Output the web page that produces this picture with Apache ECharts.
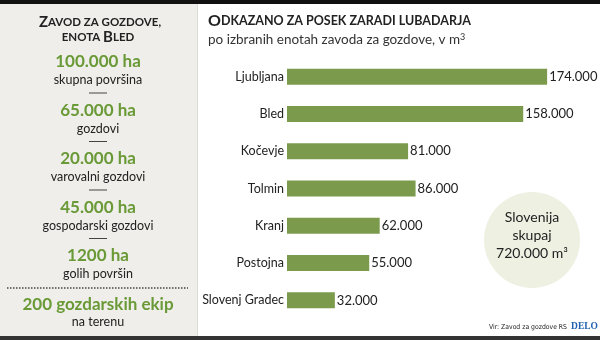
<!DOCTYPE html>
<html>
<head>
<meta charset="utf-8">
<script src="https://cdn.jsdelivr.net/npm/echarts@6/dist/echarts.min.js"></script>
<style>
  html, body { margin: 0; padding: 0; background: #fff; }
  #chart { width: 600px; height: 340px; }
</style>
</head>
<body>
<div id="chart"></div>
<script>
// podatki
const categories = ['Ljubljana', 'Bled', 'Kočevje', 'Tolmin', 'Kranj', 'Postojna', 'Slovenj Gradec'];
const values = [174000, 158000, 81000, 86000, 62000, 55000, 32000];

const statValues = ['100.000 ha', '65.000 ha', '20.000 ha', '45.000 ha', '1200 ha'];
const statLabels = ['skupna površina', 'gozdovi', 'varovalni gozdovi', 'gospodarski gozdovi', 'golih površin'];
const crewValue = '200 gozdarskih ekip';
const crewLabel = 'na terenu';
const totalLines = ['Slovenija', 'skupaj', '720.000 m³'];

const GREEN = '#7b9a4c';
const GREEN_TEXT = '#6a9a37';
const FONT = 'Lato, "Noto Sans", sans-serif';

// tisočice s piko
const fmt = v => String(v).replace(/\B(?=(\d{3})+(?!\d))/g, '.');

// "small caps" z rich tekstom: velike črke so večje, male postanejo manjše velike
function smallCaps(str) {
  let out = '';
  let run = '', runBig = null;
  const flush = () => {
    if (run) out += '{' + (runBig ? 'b' : 's') + '|' + run + '}';
    run = '';
  };
  for (const ch of str) {
    const big = ch !== ch.toLowerCase();
    if (runBig !== null && big !== runBig) flush();
    runBig = big;
    run += ch.toUpperCase();
  }
  flush();
  return out;
}

const capsRich = (big, small) => ({
  b: { fontSize: big, fontWeight: 'bold', fontFamily: FONT, fill: '#222' },
  s: { fontSize: small, fontWeight: 'bold', fontFamily: FONT, fill: '#222' }
});

const chart = echarts.init(document.getElementById('chart'));

const graphics = [
  { type: 'rect', shape: { x: 0, y: 0, width: 197, height: 340 }, style: { fill: '#efeeea' }, z: -10 },
  { type: 'line', shape: { x1: 197.5, y1: 0, x2: 197.5, y2: 340 }, style: { stroke: '#dcdcd6', lineWidth: 1 } },
  { type: 'rect', shape: { x: 0, y: 0, width: 600, height: 4 }, style: { fill: '#111' } },
  { type: 'rect', shape: { x: 0, y: 336, width: 600, height: 4 }, style: { fill: '#333' } },
  {
    type: 'text', x: 100, y: 22,
    style: { text: smallCaps('Zavod za gozdove,'), align: 'center', verticalAlign: 'middle', rich: capsRich(15, 11.5) }
  },
  {
    type: 'text', x: 98, y: 37,
    style: { text: smallCaps('enota Bled'), align: 'center', verticalAlign: 'middle', rich: capsRich(15, 11.5) }
  }
];

statValues.forEach((v, i) => {
  const y = 62 + i * 48.5;
  graphics.push({
    type: 'text', x: 98, y: y,
    style: { text: v, fill: GREEN_TEXT, font: 'bold 17px ' + FONT, align: 'center', verticalAlign: 'middle' }
  });
  graphics.push({
    type: 'text', x: 98, y: y + 18,
    style: { text: statLabels[i], fill: '#222', font: '12.5px ' + FONT, align: 'center', verticalAlign: 'middle' }
  });
  if (i < statValues.length - 1) {
    graphics.push({
      type: 'line', shape: { x1: 89, y1: y + 31, x2: 107, y2: y + 31 },
      style: { stroke: '#444', lineWidth: 1 }
    });
  }
});

graphics.push(
  { type: 'line', shape: { x1: 7, y1: 288, x2: 188, y2: 288 }, style: { stroke: '#444', lineWidth: 1.5, lineDash: [1.5, 1.5] } },
  { type: 'text', x: 98, y: 305, style: { text: crewValue, fill: GREEN_TEXT, font: 'bold 17px ' + FONT, align: 'center', verticalAlign: 'middle' } },
  { type: 'text', x: 98, y: 322, style: { text: crewLabel, fill: '#222', font: '12.5px ' + FONT, align: 'center', verticalAlign: 'middle' } },
  {
    type: 'text', x: 208, y: 21,
    style: {
      text: smallCaps('Odkazano za posek zaradi lubadarja'),
      align: 'left', verticalAlign: 'middle', rich: capsRich(16, 12.5)
    }
  },
  {
    type: 'text', x: 208, y: 40,
    style: {
      text: 'po izbranih enotah zavoda za gozdove, v m{sup|3}',
      align: 'left', verticalAlign: 'middle', font: '13.5px ' + FONT, fill: '#333',
      rich: { sup: { fontSize: 9, fontFamily: FONT, fill: '#333', verticalAlign: 'top', padding: [0, 0, 6, 0] } }
    }
  },
  { type: 'circle', shape: { cx: 532, cy: 240, r: 48 }, style: { fill: '#eef0e2' } },
  { type: 'text', x: 532, y: 217, style: { text: totalLines[0], fill: '#222', font: '14px ' + FONT, align: 'center', verticalAlign: 'middle' } },
  { type: 'text', x: 532, y: 235, style: { text: totalLines[1], fill: '#222', font: '14px ' + FONT, align: 'center', verticalAlign: 'middle' } },
  { type: 'text', x: 532, y: 253, style: { text: totalLines[2], fill: '#222', font: '14px ' + FONT, align: 'center', verticalAlign: 'middle' } },
  { type: 'text', x: 567, y: 327, style: { text: 'Vir: Zavod za gozdove RS', fill: '#222', font: '6.8px "DejaVu Sans Condensed", sans-serif', align: 'right', verticalAlign: 'middle' } },
  { type: 'text', x: 598, y: 327, style: { text: 'DELO', fill: '#1f62b0', font: 'bold 9.5px "Liberation Serif", serif', align: 'right', verticalAlign: 'middle' } }
);

chart.setOption({
  animation: false,
  grid: { left: 287, right: 14, top: 58, bottom: 21, containLabel: false },
  xAxis: { type: 'value', min: 0, max: 200000, show: false },
  yAxis: {
    type: 'category',
    data: categories,
    inverse: true,
    axisLine: { show: false },
    axisTick: { show: false },
    axisLabel: { color: '#222', fontSize: 12.5, fontFamily: FONT, margin: 3 }
  },
  series: [{
    type: 'bar',
    data: values,
    barWidth: 16,
    itemStyle: { color: GREEN },
    label: {
      show: true, position: 'right', distance: 2,
      color: '#222', fontSize: 13, fontFamily: FONT,
      formatter: p => fmt(p.value)
    }
  }],
  graphic: graphics
});
</script>
</body>
</html>
